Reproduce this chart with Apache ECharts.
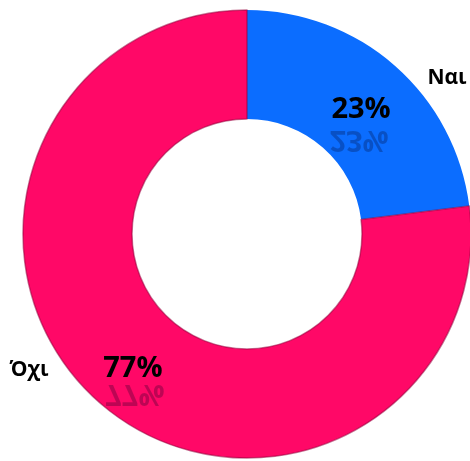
<!DOCTYPE html>
<html><head><meta charset="utf-8">
<script src="https://cdn.jsdelivr.net/npm/echarts@6/dist/echarts.min.js"></script>
<style>html,body{margin:0;padding:0;background:#fff}#c{width:470px;height:461px}</style>
</head><body><div id="c"></div>
<script>
const categories = ['Ναι', 'Όχι'];
const values = [23, 77];
const colors = ['#0B6DFF', '#FF0867'];
const borders = ['rgba(0,0,0,0)', 'rgba(150,0,60,0.55)'];

const CX = 247, CY = 234, R0 = 115, R1 = 224;
const namePos = [[447, 78], [29, 370]];
const FONT = '"Open Sans", "Noto Sans", sans-serif';

const chart = echarts.init(document.getElementById('c'), null, {renderer: 'canvas'});
const data = categories.map((n, i) => ({name: n, value: values[i],
  itemStyle: {color: colors[i], borderColor: borders[i], borderWidth: i ? 1.5 : 0}}));
const total = values.reduce((a, b) => a + b, 0);

let acc = 0;
const reflections = values.map((v, i) => {
  const mid = (acc + v / 2) / total * 2 * Math.PI; acc += v;
  const rm = (R0 + R1) / 2;
  const x = CX + rm * Math.sin(mid), y = CY - rm * Math.cos(mid);
  return {type: 'text', x: x, y: y + 32, scaleY: -1, silent: true, z: 10,
    style: {text: v + '%', font: 'bold 29px ' + FONT, fill: 'rgba(0,0,30,0.26)',
      align: 'center', verticalAlign: 'middle', textAlign: 'center', textVerticalAlign: 'middle'}};
});

chart.setOption({
  animation: false,
  backgroundColor: '#fff',
  graphic: reflections,
  series: [
    {
      type: 'pie', center: [CX, CY], radius: [R0, R1], startAngle: 90, clockwise: true,
      data: data, silent: true, z: 2,
      label: {show: true, position: 'inside', formatter: p => p.value + '%',
        fontFamily: FONT, fontWeight: 'bold', fontSize: 29, color: '#000'},
      labelLine: {show: false},
      labelLayout: () => ({dy: 5})
    },
    {
      type: 'pie', center: [CX, CY], radius: [R0, R1], startAngle: 90, clockwise: true,
      data: data.map(d => ({name: d.name, value: d.value, itemStyle: {color: 'rgba(0,0,0,0)'}})),
      silent: true, z: 1,
      label: {show: true, position: 'outside', formatter: p => p.name, overflow: 'none', width: 100,
        fontFamily: FONT, fontWeight: 'bold', fontSize: 21, color: '#000'},
      labelLine: {show: false},
      labelLayout: p => ({x: namePos[p.dataIndex][0], y: namePos[p.dataIndex][1], align: 'center', verticalAlign: 'middle'})
    }
  ]
});
</script></body></html>
